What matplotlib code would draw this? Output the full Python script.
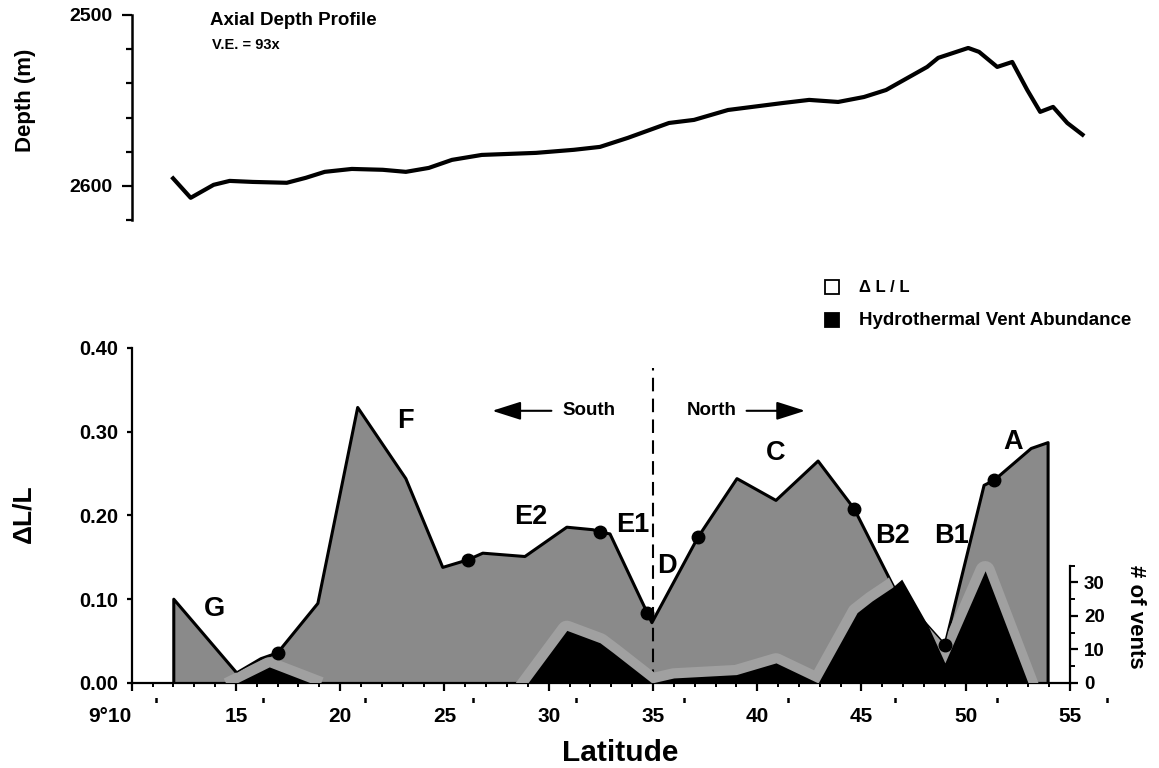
import numpy as np
import matplotlib
matplotlib.use("Agg")
import matplotlib.pyplot as plt
import matplotlib.ticker as ticker
from matplotlib.patches import Rectangle

plt.rcParams['font.family'] = ['Liberation Sans', 'DejaVu Sans']
plt.rcParams['font.weight'] = 'bold'

# Axial depth profile (latitude minutes past 9 deg N, depth in m)
depth_lat = [11.92, 12.83, 13.93, 14.70, 15.81, 17.44, 18.35, 19.26, 20.56, 22.04, 23.15, 24.25,
             25.36, 26.79, 29.39, 31.21, 32.46, 33.80, 35.77, 36.97, 38.60, 41.24, 42.49, 43.88,
             45.12, 46.18, 48.15, 48.68, 50.12, 50.64, 51.51, 52.23, 52.95, 53.57, 54.19, 54.87, 55.68]
depth_m = [2594.7, 2607.0, 2599.4, 2597.1, 2597.7, 2598.2, 2595.3, 2591.8, 2590.1, 2590.6, 2591.8, 2589.5,
           2584.8, 2581.9, 2580.7, 2578.9, 2577.2, 2571.9, 2563.2, 2561.4, 2555.6, 2551.5, 2549.7, 2550.9,
           2548.0, 2543.9, 2530.4, 2525.1, 2519.3, 2521.6, 2530.4, 2527.5, 2543.9, 2556.7, 2553.8, 2563.2, 2570.8]

# Delta L / L outline
dll_lat = [12.02, 12.02, 15.04, 16.2, 17.0, 18.93, 20.84, 23.15, 24.92, 26.12, 26.84, 28.86, 30.87,
           32.12, 32.46, 32.94, 34.95, 37.16, 39.03, 40.90, 42.92, 44.65, 46.6, 49.0, 50.88, 51.36,
           53.14, 53.95, 53.95]
dll_val = [0, 0.100, 0.012, 0.029, 0.036, 0.095, 0.329, 0.244, 0.138, 0.147, 0.155, 0.151, 0.186,
           0.183, 0.180, 0.178, 0.072, 0.174, 0.244, 0.218, 0.265, 0.208, 0.112, 0.045, 0.236, 0.242,
           0.280, 0.287, 0]

# sample dots on the Delta L / L curve
dot_lat = [17.0, 26.12, 32.46, 34.71, 37.16, 44.65, 49.0, 51.36]
dot_val = [0.036, 0.147, 0.180, 0.083, 0.174, 0.208, 0.045, 0.242]

# hydrothermal vent abundance (# of vents)
vent_lat = [15.04, 16.6, 18.6, 29.0, 30.87, 32.46, 33.1, 34.95, 36.0, 39.0, 40.9, 42.92,
            44.79, 45.51, 46.47, 46.93, 48.2, 49.0, 50.93, 52.99]
vent_count = [0, 4.8, 0, 0, 15.7, 12.0, 9.0, 0, 1.5, 2.5, 6.0, 0,
              21.0, 24.5, 28.5, 31.0, 17.0, 6.0, 33.5, 0]

# segment names
seg_names = ['G', 'F', 'E2', 'E1', 'D', 'C', 'B2', 'B1', 'A']
seg_lat = [13.95, 23.11, 29.16, 34.01, 35.69, 40.87, 46.48, 49.31, 52.29]
seg_val = [0.088, 0.313, 0.198, 0.189, 0.140, 0.275, 0.175, 0.175, 0.288]

xtick_pos = [10, 15, 20, 25, 30, 35, 40, 45, 50, 55]
xtick_labels = ['9°10', '15', '20', '25', '30', '35', '40', '45', '50', '55']
prime_pos = [11.2, 16.3, 21.2, 26.4, 31.3, 36.5, 41.5, 46.6, 51.5, 56.8]

gray = '#8a8a8a'

fig = plt.figure(figsize=(11.59, 7.68), dpi=100)

# ---- top panel: depth profile
ax_top = fig.add_axes([0.1136, 0.7135, 0.8096, 0.2670])
ax_top.plot(depth_lat, depth_m, color='black', lw=3.0, solid_joinstyle='round',
            solid_capstyle='butt', clip_on=False)
ax_top.set_xlim(10, 55)
ax_top.set_ylim(2620, 2500)
for s in ['top', 'right', 'bottom']:
    ax_top.spines[s].set_visible(False)
ax_top.spines['left'].set_linewidth(1.8)
ax_top.xaxis.set_visible(False)
ax_top.yaxis.set_major_locator(ticker.MultipleLocator(100))
ax_top.yaxis.set_minor_locator(ticker.MultipleLocator(20))
ax_top.tick_params(axis='y', which='major', length=7, width=1.6, pad=7, labelsize=14)
ax_top.tick_params(axis='y', which='minor', length=4, width=1.6)
ax_top.patch.set_visible(False)

fig.text(0.022, 0.8698, 'Depth (m)', rotation=90, ha='center', va='center', fontsize=16)
fig.text(0.1812, 0.9727, 'Axial Depth Profile', ha='left', va='center', fontsize=13.5)
fig.text(0.1829, 0.9414, 'V.E. = 93x', ha='left', va='center', fontsize=10.5)

# ---- bottom panel
ax = fig.add_axes([0.1136, 0.1107, 0.8096, 0.4362])
ax.set_xlim(10, 55)
ax.set_ylim(0, 0.40)
dll_patch = ax.fill(dll_lat, dll_val, color=gray, lw=0, zorder=1)[0]
ax.plot(dll_lat, dll_val, color='black', lw=2.2, zorder=2)
ax.plot([35, 35], [0, 0.376], color='black', lw=1.5, ls=(0, (6.5, 3.5)), zorder=5)

for s in ['top', 'right']:
    ax.spines[s].set_visible(False)
for s in ['left', 'bottom']:
    ax.spines[s].set_linewidth(1.6)

ax.set_xticks(xtick_pos)
ax.set_xticklabels(xtick_labels)
ax.get_xticklabels()[0].set_ha('right')
ax.xaxis.set_minor_locator(ticker.MultipleLocator(1))
ax.tick_params(axis='x', which='major', length=6, width=1.6, pad=11, labelsize=15)
ax.tick_params(axis='x', which='minor', length=3, width=1.4)
ax.set_yticks([0, 0.1, 0.2, 0.3, 0.4])
ax.yaxis.set_major_formatter(ticker.FormatStrFormatter('%.2f'))
ax.tick_params(axis='y', which='major', length=3.5, width=1.6, pad=6, labelsize=14.5)

for p in prime_pos:
    ax.text(p, -0.069, "'", transform=ax.get_xaxis_transform(), ha='center', va='center',
            fontsize=15, clip_on=False)

for name, x, y in zip(seg_names, seg_lat, seg_val):
    ax.text(x, y, name, ha='center', va='center', fontsize=19.5, zorder=7)

# South / North arrows
ax.annotate('', xy=(27.29, 0.325), xytext=(30.13, 0.325),
            arrowprops=dict(arrowstyle='-|>,head_length=1.1,head_width=0.35', lw=1.5,
                            color='black', mutation_scale=16, shrinkA=0, shrinkB=0))
ax.text(31.95, 0.325, 'South', ha='center', va='center', fontsize=13.5)
ax.text(37.80, 0.325, 'North', ha='center', va='center', fontsize=13.5)
ax.annotate('', xy=(42.3, 0.325), xytext=(39.49, 0.325),
            arrowprops=dict(arrowstyle='-|>,head_length=1.1,head_width=0.35', lw=1.5,
                            color='black', mutation_scale=16, shrinkA=0, shrinkB=0))

fig.text(0.0203, 0.3307, 'ΔL/L', rotation=90, ha='center', va='center', fontsize=19)
fig.text(0.535, 0.0195, 'Latitude', ha='center', va='center', fontsize=21.5)

# ---- vent abundance on a twin axis
ax2 = ax.twinx()
ax2.set_ylim(0, 100)
halo_x, halo_y = [], []
for i in range(len(vent_lat)):
    if i > 0 and vent_count[i] == 0 and vent_count[i - 1] == 0:
        halo_x.append(np.nan)
        halo_y.append(np.nan)
    halo_x.append(vent_lat[i])
    halo_y.append(vent_count[i])
# soft lighter halftone fringe around the vent humps, only inside the grey area
halo = ax2.plot(halo_x, halo_y, color='#a0a0a0', lw=14, zorder=1, solid_joinstyle='round')[0]
halo.set_clip_path(dll_patch)
ax2.fill_between(vent_lat, vent_count, 0, color='black', lw=0, zorder=2)
for s in ['top', 'left', 'bottom']:
    ax2.spines[s].set_visible(False)
ax2.spines['right'].set_bounds(0, 35)
ax2.spines['right'].set_linewidth(1.6)
ax2.set_yticks([0, 10, 20, 30])
ax2.set_yticks([5, 15, 25, 35], minor=True)
ax2.tick_params(axis='y', which='major', length=6, width=1.6, pad=4, labelsize=13.5)
ax2.tick_params(axis='y', which='minor', length=3.5, width=1.4)
fig.text(0.980, 0.1966, '# of vents', rotation=-90, ha='center', va='center', fontsize=16)

# sample dots drawn above the vent layer
ax2.plot(dot_lat, dot_val, 'o', color='black', ms=9, transform=ax.transData, zorder=6)

# ---- legend
fig.add_artist(Rectangle((0.7118, 0.6172), 0.0121, 0.0182, transform=fig.transFigure,
                         facecolor='white', edgecolor='black', lw=1.3))
fig.add_artist(Rectangle((0.7118, 0.5742), 0.0121, 0.0182, transform=fig.transFigure,
                         facecolor='black', edgecolor='black', lw=1.3))
fig.text(0.7412, 0.6263, 'Δ L / L', ha='left', va='center', fontsize=12)
fig.text(0.7412, 0.5833, 'Hydrothermal Vent Abundance', ha='left', va='center', fontsize=13.5)

fig.savefig('out.png', dpi=100)
